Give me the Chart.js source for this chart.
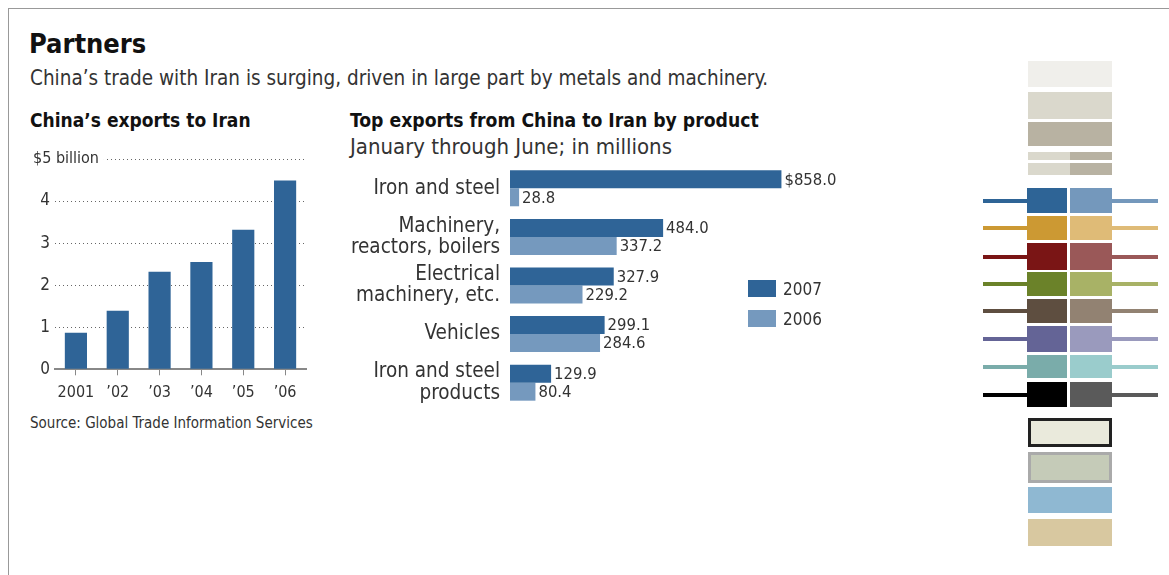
<!DOCTYPE html>
<html>
<head>
<meta charset="utf-8">
<script src="https://cdn.jsdelivr.net/npm/chart.js@4"></script>
<style>
  body { margin: 0; background: #fff; width: 1169px; height: 575px; overflow: hidden; position: relative;
         font-family: "DejaVu Sans Condensed", "DejaVu Sans", sans-serif; color: #222; }
  .frame { position: absolute; left: 8px; top: 8px; width: 1170px; height: 580px; border-top: 1px solid #999; border-left: 1px solid #999; }
  .t { position: absolute; white-space: nowrap; }
  #title { left: 29px; top: 28px; font-size: 27px; font-weight: bold; color: #111; }
  #sub { left: 30px; top: 66px; font-size: 20.5px; color: #333; }
  #h1 { left: 30px; top: 109px; font-size: 19px; font-weight: bold; color: #111; }
  #h2 { left: 350px; top: 109px; font-size: 19.2px; font-weight: bold; color: #111; }
  #h2s { left: 350px; top: 134px; font-size: 22px; color: #333; }
  #src { left: 30px; top: 414px; font-size: 15px; color: #333; }
  canvas { position: absolute; }
  #c1 { left: 20px; top: 145px; }
  #c2 { left: 340px; top: 150px; }
  #legend { position: absolute; left: 748px; top: 280px; }
  .lg { display: flex; align-items: center; height: 17px; margin-bottom: 13px; font-size: 17px; color: #333; }
  .lg span { display: inline-block; width: 28px; height: 17px; margin-right: 7px; }
  .sw { position: absolute; }
</style>
</head>
<body>
<div class="frame"></div>
<div class="t" id="title">Partners</div>
<div class="t" id="sub">China’s trade with Iran is surging, driven in large part by metals and machinery.</div>
<div class="t" id="h1">China’s exports to Iran</div>
<div class="t" id="h2">Top exports from China to Iran by product</div>
<div class="t" id="h2s">January through June; in millions</div>
<div class="t" id="src">Source: Global Trade Information Services</div>
<canvas id="c1" width="300" height="265"></canvas>
<canvas id="c2" width="530" height="270"></canvas>
<div id="legend"></div>
<div id="palette"></div>
<script>
const FONT = '"DejaVu Sans Condensed", "DejaVu Sans", sans-serif';
Chart.defaults.font.family = FONT;
Chart.defaults.color = "#333";

// left chart: yearly exports, $ billions
const years = ["2001", "’02", "’03", "’04", "’05", "’06"];
const exportsBillions = [0.87, 1.39, 2.32, 2.55, 3.32, 4.49];
const yTickLabels = ["0", "1", "2", "3", "4", "$5 billion"];

// right chart: top products, Jan-June, $ millions
const products = [
  "Iron and steel",
  ["Machinery,", "reactors, boilers"],
  ["Electrical", "machinery, etc."],
  "Vehicles",
  ["Iron and steel", "products"],
];
const values2007 = [858.0, 484.0, 327.9, 299.1, 129.9];
const values2006 = [28.8, 337.2, 229.2, 284.6, 80.4];
const seriesNames = ["2007", "2006"];

const DARK = "#2f6497";
const LIGHT = "#7599be";

// "$5 billion" sits on its dotted line, so draw it over a white gap
const topLabelPlugin = {
  id: "topLabel",
  afterDraw(chart) {
    const y = chart.scales.y.getPixelForValue(5);
    const c = chart.ctx;
    c.save();
    c.font = "16px " + FONT;
    const txt = yTickLabels[5];
    const w = c.measureText(txt).width;
    c.fillStyle = "#fff";
    c.fillRect(10, y - 6, w + 8, 12);
    c.fillStyle = "#333";
    c.textBaseline = "middle";
    c.fillText(txt, 13, y);
    c.restore();
  },
};

new Chart(document.getElementById("c1"), {
  type: "bar",
  data: {
    labels: years,
    datasets: [{ data: exportsBillions, backgroundColor: DARK, borderWidth: 0, barPercentage: 0.53, categoryPercentage: 1 }],
  },
  options: {
    responsive: false,
    animation: false,
    layout: { padding: { top: 14, right: 14 } },
    plugins: { legend: { display: false }, tooltip: { enabled: false } },
    scales: {
      x: {
        grid: { offset: false, drawOnChartArea: false, drawTicks: true, tickLength: 6, color: "#888", lineWidth: 1 },
        border: { display: true, color: "#888", width: 2 },
        ticks: { font: { size: 16 }, padding: 8, color: "#333", maxRotation: 0, minRotation: 0, autoSkip: false },
        afterFit(s) { s.height = 40.7; },
      },
      y: {
        min: 0,
        max: 5,
        ticks: {
          stepSize: 1,
          font: { size: 17 },
          padding: 5,
          color: "#333",
          callback: (v) => (v === 5 ? "" : yTickLabels[v]),
        },
        grid: { drawTicks: false, color: "#666", lineWidth: 1 },
        border: { display: false, dash: [1, 3] },
        afterFit(s) { s.width = 35; s.paddingTop = 0; },
      },
    },
  },
  plugins: [topLabelPlugin],
});

// value labels at the bar ends
const valueLabelPlugin = {
  id: "valueLabels",
  afterDatasetsDraw(chart) {
    const c = chart.ctx;
    c.save();
    c.font = "16.5px " + FONT;
    c.fillStyle = "#333";
    c.textBaseline = "middle";
    chart.data.datasets.forEach((ds, di) => {
      chart.getDatasetMeta(di).data.forEach((bar, i) => {
        let txt = ds.data[i].toFixed(1);
        if (di === 0 && i === 0) txt = "$" + txt;
        c.fillText(txt, bar.x + 3, bar.y + 1);
      });
    });
    c.restore();
  },
};

const chart2 = new Chart(document.getElementById("c2"), {
  type: "bar",
  data: {
    labels: products,
    datasets: [
      { label: seriesNames[0], data: values2007, backgroundColor: DARK },
      { label: seriesNames[1], data: values2006, backgroundColor: LIGHT },
    ],
  },
  options: {
    indexAxis: "y",
    responsive: false,
    animation: false,
    layout: { padding: { top: 14, right: 12, bottom: 13 } },
    datasets: { bar: { borderWidth: 0, barPercentage: 1, categoryPercentage: 0.74 } },
    plugins: { legend: { display: false }, tooltip: { enabled: false } },
    scales: {
      x: { display: false, min: 0, max: 1100 },
      y: {
        grid: { display: false, drawTicks: false },
        border: { display: false },
        ticks: { font: { size: 20.5, lineHeight: 1.03 }, padding: 10, color: "#333" },
        afterFit(s) { s.width = 170; s.paddingTop = 0; s.paddingBottom = 0; },
      },
    },
  },
  plugins: [valueLabelPlugin],
});

// legend from the datasets
const legend = document.getElementById("legend");
chart2.data.datasets.forEach((ds) => {
  const row = document.createElement("div");
  row.className = "lg";
  row.innerHTML = '<span style="background:' + ds.backgroundColor + '"></span>' + ds.label;
  legend.appendChild(row);
});

// colour swatches on the right side of the sheet
const pal = document.getElementById("palette");
function box(x, y, w, h, bg, extra) {
  const d = document.createElement("div");
  d.className = "sw";
  d.style.cssText = "left:" + x + "px;top:" + y + "px;width:" + w + "px;height:" + h + "px;background:" + bg + ";" + (extra || "");
  pal.appendChild(d);
}
box(1028, 61, 84, 26, "#f0efeb");
box(1028, 92, 84, 27, "#dad8cc");
box(1028, 122, 84, 24, "#b8b2a2");
box(1028, 152, 42, 8, "#dad8cc");
box(1070, 152, 42, 8, "#b8b2a2");
box(1028, 163, 42, 12, "#dad8cc");
box(1070, 163, 42, 12, "#b8b2a2");
const rows = [
  [188, 25, "#2e6496", "#7498bc"],
  [216, 24, "#cc9933", "#dfbb77"],
  [243, 27, "#7a1515", "#9a5858"],
  [272, 24, "#6b8229", "#a8b266"],
  [299, 24, "#5e4e40", "#928272"],
  [326, 26, "#646496", "#9a9abd"],
  [355, 23, "#7aacaa", "#9acccc"],
  [382, 25, "#000000", "#5a5a5a"],
];
rows.forEach(([y, h, a, b]) => {
  box(983, y + h / 2 - 2, 45, 4, a);
  box(1027, y, 40, h, a);
  box(1070, y, 42, h, b);
  box(1112, y + h / 2 - 2, 46, 4, b);
});
box(1028, 418, 84, 29, "#eaeadc", "box-sizing:border-box;border:3px solid #222;");
box(1028, 452, 84, 31, "#c5cbb8", "box-sizing:border-box;border:3px solid #aaa;");
box(1028, 487, 84, 26, "#8fb8d2");
box(1028, 519, 84, 27, "#d8c8a0");
</script>
</body>
</html>
